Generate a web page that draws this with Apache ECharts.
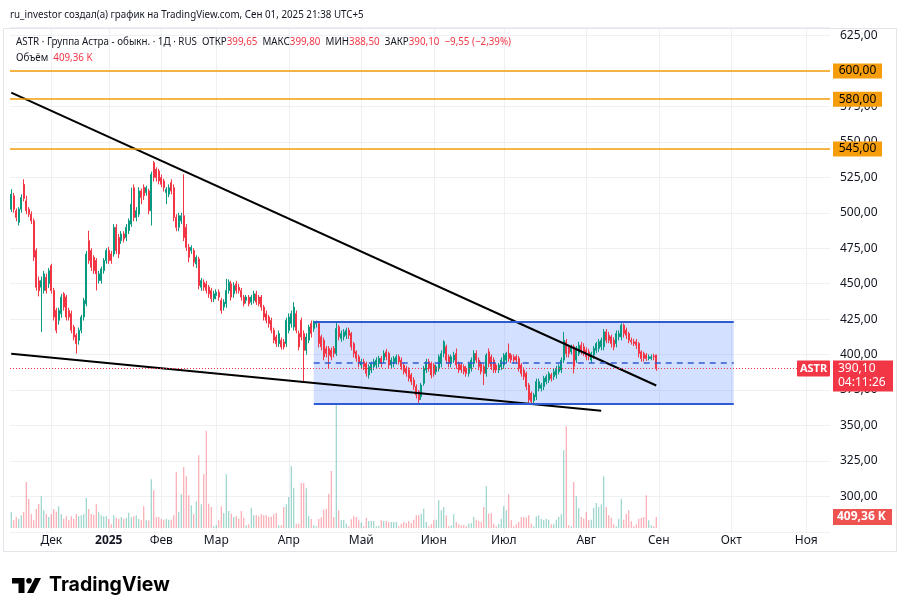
<!DOCTYPE html>
<html>
<head>
<meta charset="utf-8">
<title>ASTR 1Д</title>
<script src="https://cdn.jsdelivr.net/npm/echarts@6/dist/echarts.min.js"></script>
<style>
  html, body { margin: 0; padding: 0; background: #fff; }
  #chart { width: 908px; height: 616px; }
</style>
</head>
<body>
<div id="chart"></div>
<script>
// daily candles, [open, close, low, high]
const ohlc = [
  [502.5,513.1,500.5,516.6],[511.9,502.5,500.0,514.0],[501.4,496.7,494.0,503.0],[493.2,502.5,491.0,504.0],
  [502.5,510.7,500.0,513.0],[520.0,510.0,508.0,523.6],[508.4,501.4,499.0,512.0],[502.5,499.0,497.0,504.0],
  [499.0,494.3,492.0,501.0],[494.3,468.6,466.0,496.0],[473.3,447.5,445.0,475.0],[452.0,445.0,441.0,455.0],
  [447.5,452.2,415.9,455.0],[445.2,456.9,443.0,459.0],[454.5,445.2,443.0,457.0],[449.9,459.2,447.0,461.0],
  [462.7,445.2,443.0,464.0],[445.2,426.5,424.0,447.0],[431.1,417.1,415.0,433.0],[424.1,431.1,421.0,433.0],
  [428.8,440.5,426.0,442.8],[442.8,433.5,431.0,444.0],[440.5,426.5,424.0,442.0],[431.1,426.5,424.0,433.0],
  [428.8,417.1,415.0,431.0],[419.4,412.4,410.0,421.0],[413.6,407.7,400.7,415.0],[410.1,417.1,407.0,419.0],
  [417.1,426.5,415.0,428.0],[426.5,438.2,424.0,440.0],[435.8,470.9,434.0,473.0],[480.3,466.3,464.0,487.3],
  [473.3,461.6,459.0,475.0],[468.6,459.2,457.0,470.0],[466.3,456.9,445.2,468.0],[452.2,456.9,450.0,459.0],
  [452.2,460.4,450.0,462.0],[459.2,466.3,457.0,468.0],[466.3,473.3,464.0,475.0],[473.3,466.3,464.0,476.0],
  [470.9,466.3,464.0,473.0],[470.9,489.7,469.0,492.0],[489.7,473.3,471.0,492.0],[482.6,470.9,468.0,485.0],
  [480.3,485.0,478.0,487.0],[485.0,481.5,479.0,487.0],[482.6,489.7,480.0,492.0],[487.3,494.3,485.0,496.0],
  [492.0,506.0,490.0,517.7],[517.7,496.7,494.0,520.0],[496.7,501.4,494.0,504.0],[499.0,515.4,497.0,518.0],
  [515.4,510.7,506.0,517.0],[518.0,512.0,509.0,520.0],[514.2,517.7,512.0,519.0],[515.4,501.4,499.0,517.0],
  [501.4,527.1,491.0,529.0],[535.3,524.8,522.0,536.5],[530.6,524.8,522.0,532.0],[529.5,522.4,520.0,531.0],
  [524.8,520.1,518.0,527.0],[522.4,517.7,515.0,524.0],[514.2,516.6,506.0,518.0],[513.1,517.7,511.0,520.0],
  [521.3,515.4,513.0,523.6],[517.7,496.7,494.0,520.0],[496.7,489.7,487.0,499.0],[489.7,497.9,487.0,500.0],
  [494.3,497.9,492.0,500.0],[497.9,482.6,480.0,527.1],[489.7,475.6,473.0,492.0],[475.6,468.6,465.0,478.0],
  [473.3,475.6,471.0,477.0],[473.3,465.1,462.0,475.0],[463.9,468.6,461.0,470.0],[467.4,448.7,446.0,469.0],
  [447.5,452.2,445.0,454.0],[451.0,447.5,445.0,453.0],[449.9,445.2,443.0,452.0],[447.5,442.8,440.0,449.0],
  [445.2,439.3,437.0,447.0],[439.3,442.8,437.0,445.0],[441.7,444.0,439.0,446.0],[444.0,440.5,438.0,446.0],
  [438.2,431.1,428.8,440.0],[433.5,437.0,431.0,439.0],[435.8,445.2,433.0,453.4],[445.2,451.0,443.0,453.0],
  [449.9,440.5,438.0,452.0],[442.8,448.7,440.0,451.0],[449.9,445.2,443.0,452.0],[447.5,445.2,443.0,450.0],
  [445.2,440.5,438.0,447.0],[440.5,435.8,434.0,442.0],[438.2,440.5,436.0,442.0],[440.5,435.8,434.0,442.0],
  [437.0,440.5,435.0,442.0],[438.2,442.8,436.0,445.0],[442.8,437.0,435.0,445.0],[440.5,435.8,434.0,442.0],
  [440.5,433.5,431.0,442.0],[433.5,426.5,424.0,435.0],[428.8,424.1,422.0,431.0],[426.5,421.8,419.0,428.0],
  [424.1,417.1,415.0,426.0],[417.1,410.1,408.0,419.0],[412.4,407.7,405.4,414.0],[407.7,414.8,405.4,417.0],
  [410.1,405.4,403.5,412.0],[408.9,405.4,403.5,411.0],[407.7,424.1,405.4,426.0],[417.1,426.5,415.0,429.0],
  [421.8,428.8,419.0,431.0],[419.4,433.5,417.0,437.0],[428.8,417.1,415.0,431.0],[414.8,405.4,403.0,417.0],
  [424.1,412.4,410.0,426.0],[414.8,403.0,380.8,417.0],[403.0,412.4,400.0,415.0],[410.1,419.4,408.0,421.0],
  [421.8,414.8,412.0,424.0],[418.3,423.0,416.0,424.0],[421.8,423.0,419.0,424.0],[421.8,407.8,405.0,423.0],
  [412.5,405.5,403.0,414.0],[410.1,398.4,396.0,412.0],[404.3,400.8,398.0,406.0],[404.3,399.6,390.2,406.0],
  [403.1,398.4,396.0,405.0],[404.3,400.8,398.0,406.0],[400.8,418.3,399.0,423.0],[419.5,412.5,410.0,421.0],
  [411.3,414.8,409.0,417.0],[412.5,416.0,410.0,418.0],[413.6,417.2,411.0,419.0],[417.2,413.6,411.0,419.0],
  [414.8,405.5,403.0,416.0],[407.8,400.8,398.0,409.0],[401.9,397.3,395.0,403.0],[398.4,393.7,391.0,400.0],
  [392.6,394.9,390.0,397.0],[394.9,391.4,389.0,397.0],[393.7,386.7,384.4,395.0],[385.6,391.4,383.0,393.0],
  [389.1,393.7,387.0,395.0],[391.4,394.9,389.0,397.0],[392.6,396.1,390.0,398.0],[393.7,397.3,391.0,399.0],
  [397.3,393.7,391.0,399.0],[396.1,400.8,394.0,403.0],[401.9,398.4,396.0,404.0],[400.8,392.6,390.0,402.0],
  [392.6,396.1,390.0,398.0],[393.7,397.3,391.0,399.0],[394.9,398.4,393.0,400.0],[398.4,394.9,393.0,400.0],
  [396.1,391.4,389.0,398.0],[392.6,387.9,386.0,394.0],[390.2,386.7,384.4,392.0],[389.1,383.2,381.0,391.0],
  [385.6,380.9,378.5,387.0],[382.0,377.4,375.0,384.0],[377.4,371.5,369.0,379.0],[373.8,368.0,365.7,375.0],
  [370.3,378.5,368.0,380.0],[379.7,390.2,378.0,392.0],[389.1,394.9,387.0,397.0],[394.9,390.2,388.0,397.0],
  [393.7,385.6,383.2,395.0],[392.6,386.7,384.4,394.0],[387.9,391.4,385.6,393.0],[390.2,398.4,388.0,400.0],
  [393.7,400.8,391.0,403.0],[400.8,409.0,398.0,410.1],[405.5,396.1,394.0,407.0],[398.4,393.7,391.0,400.0],
  [393.7,398.4,391.0,400.0],[396.1,399.6,394.0,402.0],[400.8,392.6,390.0,404.3],[393.7,389.1,387.0,395.0],
  [392.6,389.1,387.0,394.0],[391.4,387.9,386.0,393.0],[390.2,386.7,384.4,392.0],[386.7,393.7,384.4,395.0],
  [390.2,396.1,388.0,398.0],[393.7,400.8,391.0,403.1],[400.8,396.1,394.0,403.0],[396.1,391.4,389.0,398.0],
  [393.7,387.9,386.0,395.0],[391.4,386.7,378.5,393.0],[386.7,399.6,384.4,401.0],[401.9,393.7,391.0,404.3],
  [398.4,391.4,389.0,400.0],[396.1,389.1,387.0,398.0],[392.6,389.1,387.0,394.0],[389.1,392.6,387.0,394.0],
  [391.4,396.1,389.0,398.0],[392.6,399.6,390.0,401.0],[396.1,400.8,394.0,402.0],[400.8,397.3,395.0,407.8],
  [399.6,396.1,394.0,401.0],[398.4,396.1,394.0,400.0],[398.4,396.1,394.0,400.0],[397.3,390.2,388.0,399.0],
  [392.6,386.7,384.4,394.0],[389.1,384.4,382.0,391.0],[386.7,377.4,375.0,388.0],[378.5,368.0,366.0,380.0],
  [372.7,366.8,365.7,374.0],[367.5,371.5,365.7,373.0],[370.3,380.9,368.0,383.0],[376.2,380.9,374.0,383.0],
  [376.2,378.5,374.0,380.0],[377.4,383.2,375.0,385.0],[380.9,384.4,379.0,386.0],[382.0,386.7,380.0,388.0],
  [385.6,383.2,381.0,387.0],[384.4,387.9,382.0,390.0],[385.6,390.2,383.0,392.0],[387.9,391.4,386.0,393.0],
  [389.1,396.1,387.0,398.0],[396.1,410.1,394.0,416.0],[409.0,400.8,398.0,411.0],[405.5,400.8,398.0,407.0],
  [401.9,405.5,400.0,407.0],[405.5,391.4,386.7,407.0],[396.1,404.3,394.0,406.0],[400.8,406.6,399.0,409.0],
  [406.6,401.9,400.0,409.0],[405.5,400.8,399.0,408.0],[403.1,398.4,396.0,405.0],[401.9,398.4,396.0,404.0],
  [396.1,400.8,394.0,402.0],[399.6,404.3,397.0,406.0],[403.1,407.8,401.0,409.0],[404.3,409.0,402.0,411.0],
  [405.5,410.1,403.0,412.0],[405.5,416.0,403.0,418.0],[416.0,410.1,408.0,418.0],[413.6,410.1,408.0,416.0],
  [412.5,407.8,405.0,414.0],[410.1,405.5,403.0,412.0],[407.8,414.8,405.0,417.0],[412.5,414.8,410.0,417.0],
  [412.5,420.7,410.0,422.0],[420.7,414.8,412.0,421.8],[417.2,413.6,411.0,419.0],[414.8,410.1,408.0,416.0],
  [410.1,409.0,407.0,412.0],[409.0,407.8,406.0,411.0],[409.0,406.6,404.0,411.0],[407.8,400.8,398.0,409.0],
  [401.9,397.3,395.0,403.0],[400.8,397.3,395.0,402.0],[399.6,397.3,395.5,401.0],[397.3,398.4,396.0,400.0],
  [397.3,398.4,396.0,400.0],[399.0,398.4,396.0,400.5],[399.65,390.1,388.5,399.8]
];

// volume, thousands of shares
const volumes = [
  595,286,409,335,472,595,1711,1079,521,286,707,893,1179,658,521,409,521,707,600,807,
  521,335,435,286,435,335,521,435,472,521,1116,707,521,480,882,584,472,435,435,335,
  138,472,383,335,409,335,383,570,400,435,472,335,286,807,286,286,1812,1402,409,409,
  335,309,335,309,309,472,2083,595,1254,2269,1923,1216,844,510,993,2704,882,1998,3608,904,
  781,63,100,300,807,558,1998,632,532,409,435,335,632,383,100,138,755,472,472,435,
  510,472,472,409,420,510,558,100,100,781,882,1153,2295,1499,160,160,1674,1674,1477,435,
  335,100,63,335,400,681,718,1276,2120,409,4576,658,286,309,160,63,324,446,409,286,
  200,63,383,260,260,260,63,86,286,260,260,223,223,223,223,63,160,223,186,260,
  186,309,472,472,532,718,223,63,138,286,309,1030,658,781,472,63,100,510,223,138,
  100,100,63,160,186,409,309,260,223,781,1551,532,558,160,63,150,346,807,658,1254,
  286,63,138,223,409,409,383,472,160,63,435,472,346,300,346,309,138,138,309,409,
  510,2890,3783,100,63,1711,1179,755,409,350,595,286,309,755,930,781,882,1923,781,472,
  383,138,63,346,1090,309,532,658,250,63,138,346,383,409,1216,286,100,63,409.36
];

const slotCount = 328; // bars plus empty future space on the time scale
const monthIdx = [16, 39, 60, 82, 111, 140, 169, 197, 230, 259, 288, 318];
const monthLabels = ['Дек', '2025', 'Фев', 'Мар', 'Апр', 'Май', 'Июн', 'Июл', 'Авг', 'Сен', 'Окт', 'Ноя'];

const levels = [600, 580, 545];
const trendLines = [
  [[0, 584.7], [258, 378.2]],
  [[0, 400.6], [236, 360.3]]
];
const channelX = [121, 289];
const channelY = [423, 365.2];
const lastClose = 390.1;
const lastVolume = 409.36;

const UP = '#089981', DOWN = '#F23645', ORANGE = '#F59D0A', BLUE = '#2E5BD3';
const TXT = '#131722';
const FONT = 'Noto Sans';

const categories = [];
for (let i = 0; i < slotCount; i++) categories.push(String(i));

const fmt = v => v.toFixed(2).replace('.', ',');

const chart = echarts.init(document.getElementById('chart'), null, { renderer: 'canvas' });

const markLines = [];
trendLines.forEach(t => markLines.push([
  { coord: t[0], lineStyle: { color: '#000', width: 2, type: 'solid' } },
  { coord: t[1] }
]));
channelY.forEach(v => markLines.push([
  { coord: [channelX[0], v], lineStyle: { color: BLUE, width: 2, type: 'solid' } },
  { coord: [channelX[1], v] }
]));
const mid = (channelY[0] + channelY[1]) / 2;
markLines.push([
  { coord: [channelX[0], mid], lineStyle: { color: BLUE, width: 1.5, type: [6, 5] } },
  { coord: [channelX[1], mid] }
]);
markLines.push({ yAxis: lastClose, lineStyle: { color: DOWN, width: 1, type: [1, 2] } });

chart.setOption({
  animation: false,
  backgroundColor: '#ffffff',
  textStyle: { fontFamily: FONT },
  grid: [
    { left: 10, right: 78, top: 27, bottom: 84.2 },
    { left: 10, right: 78, top: 300, bottom: 88 }
  ],
  xAxis: [
    {
      type: 'category', gridIndex: 0, data: categories, boundaryGap: true,
      axisLine: { show: false }, axisTick: { show: false }, axisLabel: { show: false },
      splitLine: {
        show: true, alignWithLabel: true,
        interval: i => monthIdx.includes(i),
        lineStyle: { color: '#eef0f4', width: 1 }
      }
    },
    {
      type: 'category', gridIndex: 1, data: categories, boundaryGap: true,
      axisLine: { show: false }, axisTick: { show: false }, splitLine: { show: false },
      axisLabel: {
        interval: i => monthIdx.includes(i),
        formatter: (v, i) => {
          const k = monthIdx.indexOf(i);
          if (k < 0) return '';
          return monthLabels[k] === '2025' ? '{b|2025}' : monthLabels[k];
        },
        rich: { b: { fontWeight: 'bold', fontSize: 12, color: TXT, fontFamily: FONT } },
        color: TXT, fontSize: 12, margin: 7, fontFamily: FONT
      }
    }
  ],
  yAxis: [
    {
      type: 'value', gridIndex: 0, position: 'right', min: 275, max: 631, interval: 25,
      axisLine: { show: false }, axisTick: { show: false },
      axisLabel: {
        formatter: v => (v < 300 || v > 625) ? '' : fmt(v),
        color: TXT, fontSize: 12, margin: 10, fontFamily: FONT
      },
      splitLine: { show: true, lineStyle: { color: '#eef0f4', width: 1 } }
    },
    {
      type: 'value', gridIndex: 1, min: 0, max: 8480, show: false
    }
  ],
  series: [
    {
      type: 'candlestick', xAxisIndex: 0, yAxisIndex: 0, data: ohlc, barWidth: 1.8,
      itemStyle: { color: UP, color0: DOWN, borderColor: UP, borderColor0: DOWN, borderWidth: 1 },
      markArea: {
        silent: true,
        itemStyle: { color: 'rgba(41, 98, 255, 0.2)' },
        data: [[{ coord: [channelX[0], channelY[0]] }, { coord: [channelX[1], channelY[1]] }]]
      },
      markLine: {
        silent: true, symbol: 'none', label: { show: false },
        data: markLines
      }
    },
    {
      type: 'bar', xAxisIndex: 1, yAxisIndex: 1, data: volumes, barWidth: 1,
      itemStyle: {
        color: p => ohlc[p.dataIndex][1] >= ohlc[p.dataIndex][0] ? 'rgba(8,153,129,0.5)' : 'rgba(242,54,69,0.5)'
      }
    }
  ]
});

// overlay lines and labels, placed with the chart's own scales
const yPx = v => chart.convertToPixel({ yAxisIndex: 0 }, v);
const vPx = v => chart.convertToPixel({ yAxisIndex: 1 }, v);
const x0 = chart.convertToPixel({ xAxisIndex: 0 }, '0') - 1.25;
const x1 = x0 + 820;

const g = [];
g.push({ type: 'rect', z: 0, silent: true, shape: { x: 3.5, y: 28.5, width: 893, height: 523 },
  style: { fill: 'none', stroke: '#e3e5ea', lineWidth: 1 } });
const header = (x, y, text, rich) => ({ type: 'text', x: x, y: y, z: 100, scaleX: 0.89,
  style: { text: text, rich: rich, font: '11px "Noto Sans"', fill: TXT, verticalAlign: 'middle' } });
const hRich = {
  k: { fontSize: 11, fontFamily: FONT, fill: TXT },
  v: { fontSize: 11, fontFamily: FONT, fill: DOWN }
};
g.push(header(10, 15, 'ru_investor создал(а) график на TradingView.com, Сен 01, 2025 21:38 UTC+5'));
g.push(header(16, 42, '{k|ASTR · Группа Астра - обыкн. · 1Д · RUS  ОТКР}{v|399,65}{k|  МАКС}{v|399,80}{k|  МИН}{v|388,50}{k|  ЗАКР}{v|390,10}{v|  −9,55 (−2,39%)}', hRich));
g.push(header(16, 58, '{k|Объём  }{v|409,36 K}', hRich));

levels.forEach(v => {
  const y = yPx(v);
  const ys = Math.round(y);
  g.push({ type: 'line', z: 50, silent: true, shape: { x1: x0, y1: ys, x2: x1, y2: ys },
    style: { stroke: ORANGE, lineWidth: 1.5 } });
  g.push({ type: 'rect', z: 100, shape: { x: 833, y: y - 7.5, width: 49, height: 15 }, style: { fill: ORANGE } });
  g.push({ type: 'text', z: 101, x: 857.5, y: y, style: { text: fmt(v), font: '12px "Noto Sans"', fill: '#000',
    align: 'center', verticalAlign: 'middle' } });
});

const yc = yPx(lastClose);
g.push({ type: 'rect', z: 100, shape: { x: 797, y: yc - 8, width: 33, height: 16, r: 1 }, style: { fill: DOWN } });
g.push({ type: 'text', z: 101, x: 813.5, y: yc, style: { text: 'ASTR', font: 'bold 11px "Noto Sans"', fill: '#fff',
  align: 'center', verticalAlign: 'middle' } });
g.push({ type: 'rect', z: 100, shape: { x: 833, y: yc - 8, width: 60, height: 31 }, style: { fill: DOWN } });
g.push({ type: 'text', z: 101, x: 838, y: yc, style: { text: fmt(lastClose), font: '12px "Noto Sans"', fill: '#fff',
  verticalAlign: 'middle' } });
g.push({ type: 'text', z: 101, x: 838, y: yc + 14, style: { text: '04:11:26', font: '12px "Noto Sans"', fill: '#fff',
  verticalAlign: 'middle' } });

const yv = vPx(lastVolume);
g.push({ type: 'rect', z: 100, shape: { x: 833, y: yv - 8, width: 59, height: 16 }, style: { fill: '#EF5350' } });
g.push({ type: 'text', z: 101, x: 837, y: yv, style: { text: '409,36 K', font: 'bold 12px "Noto Sans"', fill: '#fff',
  verticalAlign: 'middle' } });

// TradingView logo
g.push({ type: 'polygon', z: 100, shape: { points: [[12, 578], [24.5, 578], [24.5, 593], [18.5, 593], [18.5, 583.5], [12, 583.5]] }, style: { fill: '#000' } });
g.push({ type: 'circle', z: 100, shape: { cx: 29, cy: 580.8, r: 2.8 }, style: { fill: '#000' } });
g.push({ type: 'polygon', z: 100, shape: { points: [[35, 578], [41, 578], [33.5, 593], [27, 593]] }, style: { fill: '#000' } });
g.push({ type: 'text', z: 100, x: 49, y: 585, style: { text: 'TradingView', font: 'bold 19.5px Inter', fill: '#000',
  verticalAlign: 'middle' } });

chart.setOption({ graphic: g });
</script>
</body>
</html>
